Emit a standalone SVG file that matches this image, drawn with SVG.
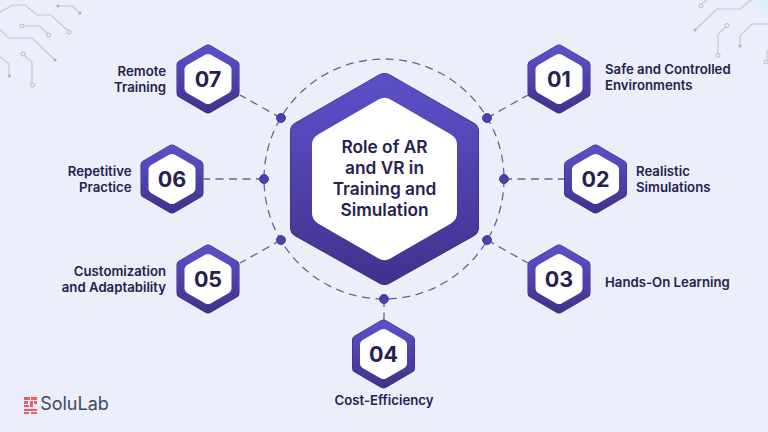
<svg xmlns="http://www.w3.org/2000/svg" width="768" height="432" viewBox="0 0 768 432">
<style>
text{font-family:Inter,"Liberation Sans",sans-serif;fill:#25224f;text-anchor:middle}
.l{font-size:13.200px;font-weight:600}
.s{text-anchor:start}
.e{text-anchor:end}
.n{font-size:21.500px;font-weight:700}
.c{font-size:17.300px;font-weight:600}
.dash{fill:none;stroke:#62669b;stroke-width:1.3;stroke-dasharray:8 5.5}
.dot{fill:#4f3fae;stroke:#34307c;stroke-width:.8}
.circ{fill:none;stroke:#c3c6e3;stroke-width:1.2}
.ring{fill:none;stroke:#b4b7d8;stroke-width:1}
.lr{fill:#ee5c63}
</style>
<defs>
<linearGradient id="g" x1="0" y1="0" x2="0" y2="1"><stop offset="0" stop-color="#5b4fc8"/><stop offset="1" stop-color="#43338f"/></linearGradient>
<radialGradient id="glow"><stop offset="0" stop-color="#d3f0f8"/><stop offset="1" stop-color="#eceef9" stop-opacity="0"/></radialGradient>
<g id="hs">
<polygon points="0,-29.5 26.5,-14 26.5,14 0,29.5 -26.5,14 -26.5,-14" fill="#2f2a6e" stroke="#2f2a6e" stroke-width="10" stroke-linejoin="round"/>
<polygon points="0,-29.5 26.5,-14 26.5,14 0,29.5 -26.5,14 -26.5,-14" fill="url(#g)" stroke="url(#g)" stroke-width="9" stroke-linejoin="round"/>
<polygon points="0,-19 17.5,-9 17.5,9 0,19 -17.5,9 -17.5,-9" fill="#fff" stroke="#fff" stroke-width="12" stroke-linejoin="round"/>
</g>
</defs>
<rect width="768" height="432" fill="#eceef9"/>
<circle cx="768" cy="0" r="34" fill="url(#glow)"/>
<g id="decor">
<path class="circ" d="M0 12 13 5H25L37 15H51L67 30"/><circle class="ring" cx="69" cy="32" r="2"/>
<path class="circ" d="M58 6H72L80 13"/><circle cx="58" cy="6" r="1.5" fill="#a9add3"/><circle cx="80" cy="13" r="1.5" fill="#a9add3"/>
<path class="circ" d="M24 26H40L47 33"/><circle class="ring" cx="22" cy="26" r="2"/><circle class="ring" cx="48.500" cy="35" r="2"/>
<path class="circ" d="M0 30 9 38H32L55 60"/><circle cx="55" cy="60" r="1.500" fill="#a9add3"/>
<path class="circ" d="M25 56 32 62V83"/><circle class="ring" cx="23" cy="54" r="2"/><circle class="ring" cx="32.500" cy="85" r="2"/>
<path class="circ" d="M0 57 9 64V76"/><circle cx="9.500" cy="76" r="1.500" fill="#a9add3"/>
<path class="circ" d="M695 30 717 9H740L751 0"/><circle cx="695" cy="30" r="1.500" fill="#a9add3"/>
<path class="circ" d="M702 4 706 0"/><circle class="ring" cx="701" cy="6" r="2"/>
<path class="circ" d="M726 27 718 34V53"/><circle class="ring" cx="727" cy="25.500" r="2"/><circle class="ring" cx="718" cy="55.500" r="2"/>
<path class="circ" d="M740 46V36L752 24H768"/><circle cx="740" cy="46" r="1.500" fill="#a9add3"/>
<path class="circ" d="M767 50V60"/><circle class="ring" cx="766" cy="62" r="2"/>
</g>
<g id="connectors">
<circle class="dash" cx="384" cy="179" r="120"/>
<path class="dash" d="M487 118 528 95"/>
<path class="dash" d="M504 179H564"/>
<path class="dash" d="M487 240 528 263"/>
<path class="dash" d="M384 299V320"/>
<path class="dash" d="M281 240 240 263"/>
<path class="dash" d="M264 179H204"/>
<path class="dash" d="M281 118 240 95"/>
<circle class="dot" cx="487" cy="118" r="4.500"/>
<circle class="dot" cx="504" cy="179" r="4.500"/>
<circle class="dot" cx="487" cy="240" r="4.500"/>
<circle class="dot" cx="384" cy="299" r="4.500"/>
<circle class="dot" cx="281" cy="240" r="4.500"/>
<circle class="dot" cx="264" cy="179" r="4.500"/>
<circle class="dot" cx="281" cy="118" r="4.500"/>
</g>
<g id="center">
<polygon points="384.500,83 469,131.500 469,227.500 384.500,275 300,227.500 300,131.500" fill="#2f2a6e" stroke="#2f2a6e" stroke-width="20" stroke-linejoin="round"/>
<polygon points="384.500,83 469,131.500 469,227.500 384.500,275 300,227.500 300,131.500" fill="url(#g)" stroke="url(#g)" stroke-width="19" stroke-linejoin="round"/>
<polygon points="384.500,110 445,145 445,213 384.500,248 324,213 324,145" fill="#fff" stroke="#fff" stroke-width="24" stroke-linejoin="round"/>
<text class="c" x="384.500" y="153">Role of AR</text>
<text class="c" x="384.500" y="174">and VR in</text>
<text class="c" x="384.500" y="195">Training and</text>
<text class="c" x="384.500" y="216">Simulation</text>
</g>
<g id="node-01"><use href="#hs" x="559" y="79"/><text class="n" x="559" y="87">01</text><text class="l s" x="605" y="73.500">Safe and Controlled</text><text class="l s" x="605" y="89.500">Environments</text></g>
<g id="node-02"><use href="#hs" x="595.500" y="179"/><text class="n" x="595.500" y="187">02</text><text class="l s" x="636" y="175.500">Realistic</text><text class="l s" x="636" y="191.500">Simulations</text></g>
<g id="node-03"><use href="#hs" x="559" y="279"/><text class="n" x="559" y="287">03</text><text class="l s" x="605" y="286.500">Hands-On Learning</text></g>
<g id="node-04"><use href="#hs" x="383.500" y="354"/><text class="n" x="383.500" y="362">04</text><text class="l" x="384" y="405">Cost-Efficiency</text></g>
<g id="node-05"><use href="#hs" x="208" y="279"/><text class="n" x="208" y="287">05</text><text class="l e" x="166" y="276">Customization</text><text class="l e" x="166" y="292">and Adaptability</text></g>
<g id="node-06"><use href="#hs" x="172" y="179"/><text class="n" x="172" y="187">06</text><text class="l e" x="131.500" y="175.500">Repetitive</text><text class="l e" x="131.500" y="191.500">Practice</text></g>
<g id="node-07"><use href="#hs" x="208" y="79"/><text class="n" x="208" y="87">07</text><text class="l e" x="166" y="75.500">Remote</text><text class="l e" x="166" y="91.500">Training</text></g>
<g id="logo">
<rect class="lr" x="24" y="397" width="6" height="3"/><rect class="lr" x="31" y="397" width="6" height="3"/>
<rect class="lr" x="24" y="401" width="4" height="3"/><rect class="lr" x="30" y="401" width="3" height="6"/><rect class="lr" x="34" y="401" width="3" height="3"/>
<rect class="lr" x="24" y="405" width="5" height="2"/><rect class="lr" x="24" y="409" width="13" height="2"/>
<rect class="lr" x="24" y="412" width="5" height="2"/><rect class="lr" x="31" y="412" width="6" height="2"/>
<text x="74.500" y="410" style="font-size:18px;font-weight:400;fill:#3c4a5e">SoluLab</text>
</g>
</svg>
